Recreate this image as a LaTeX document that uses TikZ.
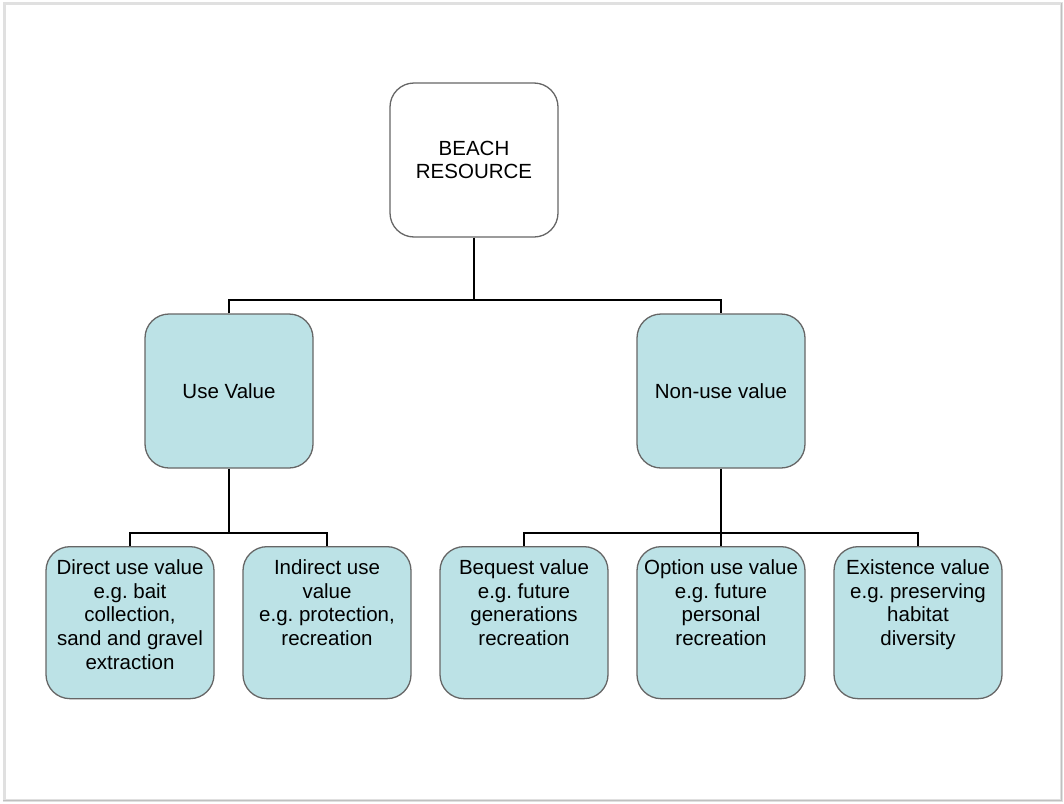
\documentclass[tikz,border=0pt]{standalone}
\usepackage{fontspec}
\setmainfont{Liberation Sans}
\frenchspacing
\definecolor{boxblue}{HTML}{BCE2E6}
\definecolor{boxedge}{HTML}{666666}
\newcommand{\leaftext}[1]{\begin{minipage}[t][130pt][t]{164pt}\centering\strut #1\end{minipage}}
\tikzset{
  valbox/.style={draw=boxedge,line width=1.3pt,fill=boxblue,rounded corners=24pt,
    minimum width=168pt,minimum height=154pt,align=center,
    font=\fontsize{20.5}{23.8}\selectfont},
  leafbox/.style={valbox,minimum height=152pt,anchor=north,inner xsep=2pt,inner ysep=11pt},
  link/.style={draw=black,line width=2.8pt}
}
\begin{document}
\begin{tikzpicture}[x=1pt,y=-1pt]
\useasboundingbox (0,0) rectangle (1064,803);
% page frame
\draw[color={black!12},line width=3pt] (4,3) rectangle (1061,800);
\draw[color={black!25},line width=1pt] (3,800) -- (1061,800) -- (1061,3);
% top level
\node[valbox,fill=white] (beach) at (474,160) {BEACH\\RESOURCE};
\node[valbox] (use) at (229,391) {Use Value};
\node[valbox] (nonuse) at (721,391) {Non-use value};
% leaves
\node[leafbox] (direct) at (130,546) {\leaftext{Direct use value\\e.g. bait\\collection,\\sand and gravel\\extraction}};
\node[leafbox] (indirect) at (327,546) {\leaftext{Indirect use\\value\\e.g. protection,\\recreation}};
\node[leafbox] (bequest) at (524,546) {\leaftext{Bequest value\\e.g. future\\generations\\recreation}};
\node[leafbox] (option) at (721,546) {\leaftext{Option use value\\e.g. future\\personal\\recreation}};
\node[leafbox] (exist) at (918,546) {\leaftext{Existence value\\e.g. preserving\\habitat\\diversity}};
% connectors
\coordinate (j1) at (474,300);
\coordinate (j2) at (229,533);
\coordinate (j3) at (721,533);
\draw[link] (beach.south) -- (j1);
\draw[link] (use.north) |- (j1) -| (nonuse.north);
\draw[link] (use.south) -- (j2);
\draw[link] (direct.north) |- (j2) -| (indirect.north);
\draw[link] (nonuse.south) -- (j3);
\draw[link] (bequest.north) |- (j3) -| (exist.north);
\draw[link] (j3) -- (option.north);
\end{tikzpicture}
\end{document}
